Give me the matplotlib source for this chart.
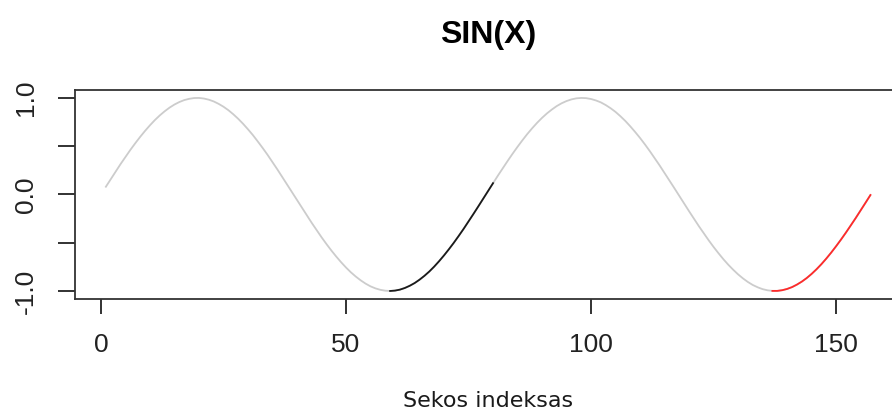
import matplotlib
matplotlib.use("Agg")
import matplotlib.pyplot as plt


# Sekos reiksmes (nuskaitytos is paveikslo)
idx = list(range(1, 158))

values = [
    0.080, 0.159, 0.238, 0.315, 0.389, 0.462, 0.531, 0.597, 0.659, 0.717,
    0.771, 0.819, 0.862, 0.900, 0.932, 0.958, 0.978, 0.991, 0.999, 1.000,
    0.994, 0.982, 0.964, 0.939, 0.909, 0.873, 0.831, 0.784, 0.732, 0.675,
    0.615, 0.549, 0.481, 0.410, 0.335, 0.259, 0.180, 0.101, 0.022, -0.058,
    -0.138, -0.217, -0.294, -0.369, -0.443, -0.513, -0.580, -0.643, -0.702, -0.757,
    -0.807, -0.851, -0.890, -0.924, -0.952, -0.973, -0.988, -0.997, -1.000, -0.996,
    -0.986, -0.969, -0.946, -0.918, -0.883, -0.843, -0.798, -0.747, -0.691, -0.631,
    -0.567, -0.500, -0.429, -0.356, -0.279, -0.202, -0.123, -0.043, 0.037, 0.117,
    0.196, 0.273, 0.349, 0.423, 0.494, 0.562, 0.627, 0.687, 0.743, 0.794,
    0.840, 0.880, 0.916, 0.945, 0.968, 0.985, 0.996, 1.000, 0.998, 0.989,
    0.974, 0.954, 0.926, 0.893, 0.855, 0.810, 0.761, 0.706, 0.647, 0.585,
    0.518, 0.448, 0.375, 0.300, 0.222, 0.144, 0.065, -0.015, -0.095, -0.174,
    -0.252, -0.329, -0.403, -0.475, -0.544, -0.609, -0.671, -0.728, -0.780, -0.828,
    -0.870, -0.907, -0.938, -0.962, -0.981, -0.993, -0.999, -0.999, -0.992, -0.979,
    -0.960, -0.934, -0.903, -0.866, -0.823, -0.775, -0.722, -0.664, -0.602, -0.536,
    -0.467, -0.395, -0.320, -0.244, -0.165, -0.086, -0.006,
]

# pazymetos atkarpos (indeksai, imtinai)
black_range = (59, 80)
red_range = (137, 157)

x_ticks = [0, 50, 100, 150]
y_ticks = [-1.0, -0.5, 0.0, 0.5, 1.0]
y_ticklabels = ["-1.0", "", "0.0", "", "1.0"]


def segment(start, end):
    xs = [i for i in idx if start <= i <= end]
    ys = [values[i - 1] for i in xs]
    return xs, ys


fig = plt.figure(figsize=(8.92, 4.12), dpi=100)
ax = fig.add_axes([0.0844, 0.275, 0.9257, 0.506])

ax.plot(idx, values, color="#cccccc", linewidth=1.3)
bx, by = segment(*black_range)
ax.plot(bx, by, color="#1a1a1a", linewidth=1.3)
rx, ry = segment(*red_range)
ax.plot(rx, ry, color="#ff2a2a", linewidth=1.3)

ax.set_xlim(-5.24, 163.24)
ax.set_ylim(-1.08, 1.08)

ax.set_xticks(x_ticks)
ax.set_xticklabels([str(t) for t in x_ticks], fontfamily="Liberation Sans", fontsize=19)
ax.set_yticks(y_ticks)
ax.set_yticklabels(y_ticklabels, fontfamily="Liberation Sans", fontsize=19,
                   rotation=90, va="center")

ax.tick_params(axis="x", length=11, width=1.3, pad=14, colors="#222222")
ax.tick_params(axis="y", length=12, width=1.3, pad=15, colors="#222222")
for s in ax.spines.values():
    s.set_linewidth(1.3)
    s.set_color("#333333")

ax.set_title("SIN(X)", fontfamily="Liberation Sans", fontweight="bold",
             fontsize=23, pad=34)
ax.set_xlabel("Sekos indeksas", fontfamily="DejaVu Sans", fontsize=16,
              labelpad=24, color="#1a1a1a")

fig.savefig("out.png", dpi=100)
